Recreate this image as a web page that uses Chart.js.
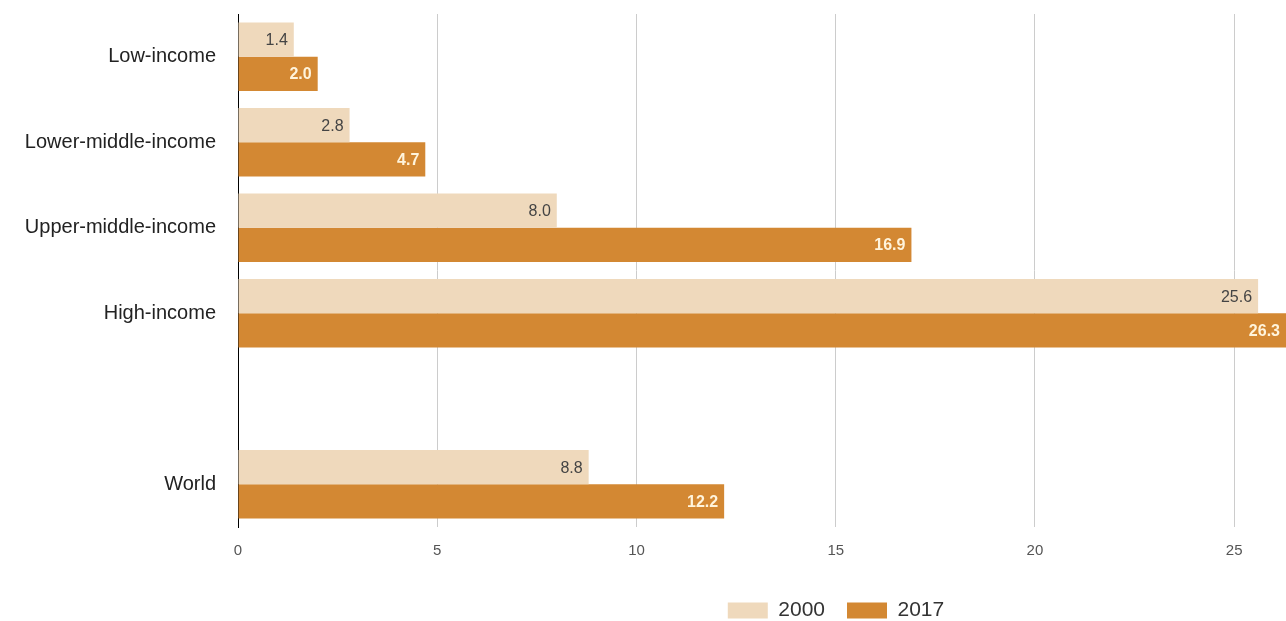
<!DOCTYPE html>
<html>
<head>
<meta charset="utf-8">
<script src="https://cdn.jsdelivr.net/npm/chart.js@4.4.0/dist/chart.umd.min.js"></script>
<style>
  html, body { margin: 0; padding: 0; background: #fff; }
  #wrap { width: 1286px; height: 621px; }
</style>
</head>
<body>
<div id="wrap"><canvas id="chart" width="1286" height="621"></canvas></div>
<script>
// data
const categories = ['Low-income', 'Lower-middle-income', 'Upper-middle-income', 'High-income', '', 'World'];
const values2000 = [1.4, 2.8, 8.0, 25.6, null, 8.8];
const values2017 = [2.0, 4.7, 16.9, 26.3, null, 12.2];
const seriesNames = ['2000', '2017'];
const xTicks = [0, 5, 10, 15, 20, 25];

const lightColor = '#efd9bc';
const darkColor = '#d38833';
const font = '"Liberation Sans", Arial, sans-serif';

// values written at the inner end of each bar
const barLabels = {
  id: 'barLabels',
  afterDatasetsDraw(chart) {
    const ctx = chart.ctx;
    ctx.save();
    ctx.textAlign = 'right';
    ctx.textBaseline = 'middle';
    chart.data.datasets.forEach((ds, i) => {
      const meta = chart.getDatasetMeta(i);
      meta.data.forEach((bar, j) => {
        const v = ds.data[j];
        if (v == null) return;
        ctx.font = (i === 1 ? 'bold ' : '') + '16px ' + font;
        ctx.fillStyle = i === 1 ? '#fff4dc' : '#444';
        ctx.fillText(v.toFixed(1), bar.x - 6, bar.y + 1);
      });
    });
    ctx.restore();
  }
};

// legend sits right of centre and a bit lower in the reference
const legendShift = {
  id: 'legendShift',
  afterLayout(chart) {
    const lg = chart.legend;
    lg.left += 193;
    lg.right += 193;
    lg.top += 10;
    lg.bottom += 10;
  }
};

new Chart(document.getElementById('chart').getContext('2d'), {
  type: 'bar',
  data: {
    labels: categories,
    datasets: [
      { label: seriesNames[0], data: values2000, backgroundColor: lightColor },
      { label: seriesNames[1], data: values2017, backgroundColor: darkColor }
    ]
  },
  options: {
    indexAxis: 'y',
    responsive: false,
    animation: false,
    categoryPercentage: 0.8,
    barPercentage: 1.0,
    layout: { padding: { top: 14, right: 0, bottom: 0, left: 0 } },
    plugins: {
      tooltip: { enabled: false },
      legend: {
        position: 'bottom',
        labels: {
          boxWidth: 40,
          boxHeight: 16,
          padding: 22,
          color: '#333',
          font: { family: font, size: 21 }
        }
      }
    },
    scales: {
      x: {
        min: 0,
        max: 26.3,
        afterBuildTicks(scale) {
          scale.ticks = xTicks.map(v => ({ value: v }));
        },
        afterFit(scale) { scale.height = 41; },
        grid: { color: '#cccccc', drawTicks: false },
        border: { display: false },
        ticks: {
          padding: 15,
          color: '#555',
          font: { family: font, size: 15 }
        }
      },
      y: {
        afterFit(scale) {
          scale.width = 238;
          scale.paddingTop = 0;
          scale.paddingBottom = 0;
        },
        grid: { display: false },
        border: { display: true, color: '#000', width: 1 },
        ticks: {
          padding: 14,
          color: '#222',
          font: { family: font, size: 20 }
        }
      }
    }
  },
  plugins: [barLabels, legendShift]
});
</script>
</body>
</html>
